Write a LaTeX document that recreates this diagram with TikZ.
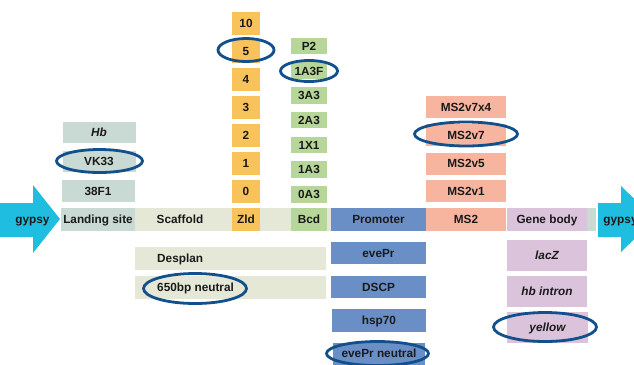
\documentclass[tikz,border=0pt]{standalone}
\usepackage{fontspec}
\setmainfont{Liberation Sans}
\usetikzlibrary{shapes.geometric}
\definecolor{cland}{HTML}{C9D9D4}
\definecolor{cscaf}{HTML}{E6E8D7}
\definecolor{czld}{HTML}{F9C35C}
\definecolor{cbcd}{HTML}{B6D69A}
\definecolor{cprom}{HTML}{6A8FC6}
\definecolor{cms}{HTML}{F7B49F}
\definecolor{cgene}{HTML}{DCC3DC}
\definecolor{cgyp}{HTML}{1FBDE0}
\definecolor{cring}{HTML}{11508C}
\definecolor{ctext}{HTML}{1A1A1A}
\begin{document}
\begin{tikzpicture}[x=1bp,y=-1bp,
  lbl/.style={inner sep=0pt, text height=8.6bp, text depth=0pt, font=\fontsize{11.8bp}{14bp}\selectfont\bfseries, text=ctext},
  box/.style={lbl, rectangle},
  wh/.style 2 args={minimum width=#1bp, minimum height=#2bp},
  ring/.style={ellipse, draw=cring, line width=2.8bp, inner sep=0pt},
  gyp/.style={fill=cgyp}]
\useasboundingbox (0,0) rectangle (634,364);
\clip (0,0) rectangle (634,364);
% gypsy arrows
\fill[gyp] (0,203) -- (33,203) -- (33,185) -- (60,219) -- (33,253) -- (33,237) -- (0,237) -- cycle;
\fill[gyp] (598,203) -- (621,203) -- (621,186) -- (655,219) -- (621,252) -- (621,237) -- (598,237) -- cycle;
\node[lbl] (gypL) at (32.5,219) {gypsy};
\node[lbl] (gypR) at (620.5,219) {gypsy};
% main bar
\node[box, fill=cland, wh={74}{23}] (land) at (98,219.5) {Landing site};
\node[box, fill=cscaf, wh={196}{23}] (scaf) at (233,219.5) {};
\node[lbl] (scaft) at (180,219.5) {Scaffold};
\node[box, fill=czld, wh={28}{23}] (zld) at (246,219.5) {Zld};
\node[box, fill=cbcd, wh={36}{23}] (bcd) at (309,219.5) {Bcd};
\node[box, fill=cprom, wh={95}{23}] (prom) at (378.5,219.5) {Promoter};
\node[box, fill=cms, wh={80}{23}] (ms2) at (466,219.5) {MS2};
\node[box, fill=cgene, wh={80}{23}] (gene) at (547,219.5) {Gene body};
\node[box, fill=cland, wh={9}{23}] (strip) at (591.5,219.5) {};
% landing site column
\node[box, fill=cland, wh={73}{21}] (hb) at (99,132) {\itshape Hb};
\node[box, fill=cland, wh={73}{21}] (vk) at (99,161.5) {VK33};
\node[box, fill=cland, wh={73}{22}] (f38) at (98,191) {38F1};
% Zld column
\foreach \t/\y [count=\i] in {10/23.5,5/51.5,4/79.5,3/107.5,2/135.5,1/163.5,0/191.5}
  \node[box, fill=czld, wh={28}{23}] (z\i) at (246,\y) {\t};
% Bcd column
\foreach \t/\y [count=\i] in {P2/46,1A3F/70.7,3A3/95.4,2A3/120.1,1X1/144.8,1A3/169.5,0A3/194.5}
  \node[box, fill=cbcd, wh={36}{16.5}] (b\i) at (309,\y) {\t};
% MS2 column
\foreach \t/\y [count=\i] in {MS2v7x4/107,MS2v7/135,MS2v5/163.5,MS2v1/191}
  \node[box, fill=cms, wh={80}{22}] (m\i) at (466,\y) {\t};
% scaffold options
\node[box, fill=cscaf, wh={191}{23}] (desp) at (230.5,258.5) {};
\node[lbl, anchor=west] (despt) at (157,258.5) {Desplan};
\node[box, fill=cscaf, wh={191}{23}] (neu) at (230.5,287.5) {};
\node[lbl, anchor=west] (neut) at (157,287.5) {650bp neutral};
% promoter options
\node[box, fill=cprom, wh={95}{22}] (p1) at (378.5,253) {evePr};
\node[box, fill=cprom, wh={95}{22}] (p2) at (378.5,287) {DSCP};
\node[box, fill=cprom, wh={94}{23}] (p3) at (379,320.5) {hsp70};
\node[box, fill=cprom, wh={92}{22}] (p4) at (379,353.5) {evePr neutral};
% gene body options
\node[box, fill=cgene, wh={80}{31}] (g1) at (547,255.5) {\itshape lacZ};
\node[box, fill=cgene, wh={80}{31}] (g2) at (547,291.5) {\itshape hb intron};
\node[box, fill=cgene, wh={81}{31}] (g3) at (547.5,327.5) {\itshape yellow};
% rings
\node[ring, minimum width=86bp, minimum height=23bp] (r1) at (99.5,161) {};
\node[ring, minimum width=56bp, minimum height=23bp] (r2) at (246,50) {};
\node[ring, minimum width=57bp, minimum height=21bp] (r3) at (309,71) {};
\node[ring, minimum width=103bp, minimum height=24bp] (r4) at (466,134) {};
\node[ring, minimum width=103bp, minimum height=30bp] (r5) at (195,288.5) {};
\node[ring, minimum width=102bp, minimum height=24bp] (r6) at (377.5,353.5) {};
\node[ring, minimum width=103bp, minimum height=29bp] (r7) at (545,327) {};
\end{tikzpicture}
\end{document}
